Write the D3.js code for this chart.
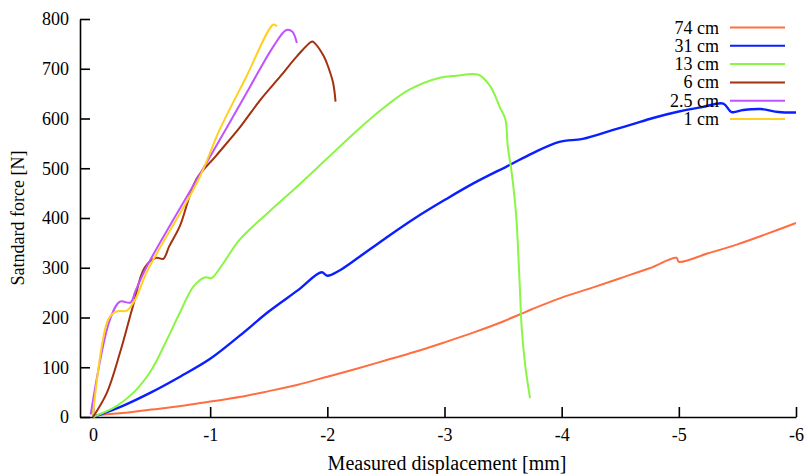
<!DOCTYPE html>
<html>
<head>
<meta charset="utf-8">
<script src="https://cdn.jsdelivr.net/npm/d3@7"></script>
<style>
  body { margin: 0; background: #fff; }
  svg { display: block; }
  text { font-family: "Liberation Serif", "Times New Roman", serif; fill: #000; }
</style>
</head>
<body>
<svg id="chart" width="805" height="474"></svg>
<script>
// Displacement (mm, negative = compression) and force (N) for each specimen length
const series74 = [[0,3],[-0.25,8],[-0.5,15],[-0.75,22],[-1,31],[-1.25,40],[-1.5,52],[-1.75,65],[-2,81],[-2.25,97],[-2.5,114],[-2.75,131],[-3,150],[-3.25,170],[-3.5,192],[-3.65,207],[-3.75,217],[-4,240],[-4.25,259],[-4.5,279],[-4.75,299],[-4.98,320],[-5.0,312],[-5.25,329],[-5.5,347],[-5.75,368],[-6,390]];
const series31 = [[0,0],[-0.25,22],[-0.5,50],[-0.75,82],[-1,117],[-1.25,163],[-1.5,212],[-1.75,255],[-1.95,291],[-2.0,284],[-2.1,294],[-2.25,318],[-2.5,360],[-2.75,400],[-3,436],[-3.25,470],[-3.56,507],[-3.75,530],[-3.98,553],[-4.18,559],[-4.44,577],[-4.6,588],[-4.78,601],[-5.0,614],[-5.2,623],[-5.38,630],[-5.45,613],[-5.55,617],[-5.7,619],[-5.85,613],[-6,612]];
const series13 = [[0,0],[-0.2,22],[-0.35,50],[-0.5,95],[-0.63,155],[-0.74,209],[-0.86,263],[-0.96,281],[-1.01,279],[-1.1,305],[-1.25,356],[-1.5,412],[-1.75,465],[-2,520],[-2.25,575],[-2.5,625],[-2.7,658],[-2.96,682],[-3.1,686],[-3.29,688],[-3.39,665],[-3.47,624],[-3.52,598],[-3.54,544],[-3.57,497],[-3.61,410],[-3.64,276],[-3.66,175],[-3.69,102],[-3.73,38]];
const series6 = [[0,0],[-0.117,48],[-0.23,129],[-0.34,222],[-0.44,300],[-0.54,320],[-0.6,318],[-0.65,343],[-0.74,383],[-0.88,477],[-1.05,525],[-1.25,581],[-1.43,638],[-1.6,685],[-1.74,725],[-1.87,755],[-1.89,752],[-1.97,725],[-2.01,702],[-2.05,671],[-2.07,634]];
const series25 = [[0.02,5],[-0.145,196],[-0.23,232],[-0.32,230],[-0.36,252],[-0.46,303],[-0.885,477],[-1.14,581],[-1.35,668],[-1.54,745],[-1.65,778],[-1.7,775],[-1.74,752]];
const series1 = [[0,5],[-0.13,196],[-0.2,212],[-0.29,214],[-0.36,236],[-0.46,292],[-0.9,477],[-1.08,577],[-1.3,680],[-1.54,789],[-1.57,785]];

const legendLabels = ["74 cm","31 cm","13 cm","6 cm","2.5 cm","1 cm"];
const seriesColors = ["#ff6e40","#0a1fff","#8af545","#a3310f","#c052ff","#ffd020"];
const allSeries = [series74, series31, series13, series6, series25, series1];

const xTicks = [0,-1,-2,-3,-4,-5,-6];
const yTicks = [0,100,200,300,400,500,600,700,800];

const svg = d3.select("#chart");
const plotLeft = 80, plotRight = 796, plotTop = 19, plotBottom = 417;

const x = d3.scaleLinear().domain([0.111, -6]).range([plotLeft, plotRight]);
const y = d3.scaleLinear().domain([0, 800]).range([plotBottom, plotTop]);

// Axes: ticks point inward, no outer tick marks
const yAxis = d3.axisLeft(y).tickValues(yTicks).tickSizeInner(-10).tickSizeOuter(0).tickPadding(11);
const xAxis = d3.axisBottom(x).tickValues(xTicks).tickSizeInner(-10).tickSizeOuter(0).tickPadding(11)
  .tickFormat(d => d === 0 ? "0" : "-" + Math.abs(d));

const gy = svg.append("g").attr("transform", `translate(${plotLeft},0)`).call(yAxis);
const gx = svg.append("g").attr("transform", `translate(0,${plotBottom})`).call(xAxis);
[gx, gy].forEach(g => {
  g.select(".domain").attr("stroke", "#000").attr("stroke-width", 1.6);
  g.selectAll(".tick line").attr("stroke", "#000").attr("stroke-width", 1.6);
  g.selectAll(".tick text").attr("font-size", 18).attr("font-family", "Liberation Serif, serif").attr("fill", "#000");
});

// Curves
const line = d3.line().x(d => x(d[0])).y(d => y(d[1])).curve(d3.curveCatmullRom.alpha(0.5));
allSeries.forEach((s, i) => {
  svg.append("path")
    .attr("d", line(s))
    .attr("fill", "none")
    .attr("stroke", seriesColors[i])
    .attr("stroke-width", i === 1 ? 2.4 : 2)
    .attr("stroke-linejoin", "round");
});

// Legend
const legend = svg.append("g");
legendLabels.forEach((lab, i) => {
  const yy = 27.5 + i * 18.3;
  legend.append("text").attr("x", 719).attr("y", yy + 6).attr("text-anchor", "end")
    .attr("font-size", 18).text(lab);
  legend.append("line").attr("x1", 730).attr("x2", 785).attr("y1", yy).attr("y2", yy)
    .attr("stroke", seriesColors[i]).attr("stroke-width", 2);
});

// Axis titles
svg.append("text").attr("x", 447).attr("y", 470).attr("text-anchor", "middle")
  .attr("font-size", 20).text("Measured displacement [mm]");
svg.append("text").attr("transform", "translate(24,218) rotate(-90)").attr("text-anchor", "middle")
  .attr("font-size", 18).text("Satndard force [N]");
</script>
</body>
</html>
